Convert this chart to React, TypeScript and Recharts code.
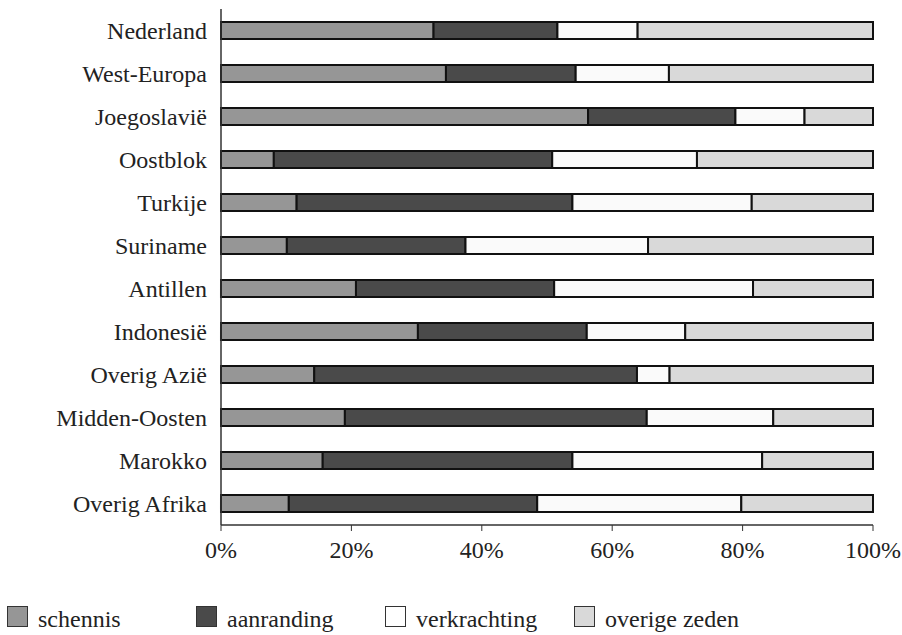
import React from "react";
import { BarChart, Bar, XAxis, YAxis } from "recharts";

const categories = [
  "Nederland",
  "West-Europa",
  "Joegoslavië",
  "Oostblok",
  "Turkije",
  "Suriname",
  "Antillen",
  "Indonesië",
  "Overig Azië",
  "Midden-Oosten",
  "Marokko",
  "Overig Afrika",
];

const schennis = [32.6, 34.5, 56.3, 8.1, 11.6, 10.1, 20.7, 30.2, 14.3, 19.0, 15.6, 10.4];
const aanranding = [19.0, 19.9, 22.6, 42.7, 42.3, 27.4, 30.4, 25.9, 49.5, 46.3, 38.3, 38.1];
const verkrachting = [12.3, 14.3, 10.6, 22.2, 27.5, 28.0, 30.5, 15.1, 5.0, 19.4, 29.1, 31.3];
const overigeZeden = [36.1, 31.3, 10.5, 27.0, 18.6, 34.5, 18.4, 28.8, 31.2, 15.3, 17.0, 20.2];

const xTicks = [0, 0.2, 0.4, 0.6, 0.8, 1];
const bandTicks = [0, 1, 2, 3, 4, 5, 6, 7, 8, 9, 10, 11, 12];

const series = [
  { key: "schennis", label: "schennis", values: schennis, color: "#969696" },
  { key: "aanranding", label: "aanranding", values: aanranding, color: "#4a4a4a" },
  { key: "verkrachting", label: "verkrachting", values: verkrachting, color: "#fafafa" },
  { key: "overige", label: "overige zeden", values: overigeZeden, color: "#d9d9d9" },
];

const data = categories.map((name, i) => {
  const row: Record<string, any> = { name };
  series.forEach((s) => {
    row[s.key] = s.values[i];
  });
  return row;
});

const FONT = '"Liberation Serif", "DejaVu Serif", Times, serif';

export default function App() {
  return (
    <div style={{ position: "absolute", left: 0, top: 0, width: 902, height: 635, background: "#fff", fontFamily: FONT }}>
      <BarChart
        width={902}
        height={580}
        data={data}
        layout="vertical"
        stackOffset="expand"
        barSize={17}
        margin={{ top: 9, right: 29, bottom: 0, left: 0 }}
        style={{ fontFamily: FONT }}
      >
        <XAxis
          type="number"
          domain={[0, 1]}
          ticks={xTicks}
          tickFormatter={(v: number) => `${Math.round(v * 100)}%`}
          height={55}
          tickSize={6}
          tickMargin={10}
          axisLine={{ stroke: "#333", strokeWidth: 1.5 }}
          tickLine={{ stroke: "#333" }}
          tick={{ fill: "#222", fontSize: 24, fontFamily: FONT }}
        />
        <XAxis
          xAxisId="top"
          orientation="top"
          type="number"
          domain={[0, 1]}
          height={0}
          tick={false}
          tickLine={false}
          axisLine={{ stroke: "#999", strokeWidth: 1.5 }}
        />
        <YAxis
          yAxisId="t"
          type="number"
          domain={[0, 12]}
          ticks={bandTicks}
          width={0}
          tick={false}
          tickSize={8}
          tickLine={{ stroke: "#333" }}
          axisLine={false}
        />
        <YAxis
          type="category"
          dataKey="name"
          width={221}
          tickSize={8}
          tickMargin={6}
          tickLine={false}
          axisLine={{ stroke: "#333", strokeWidth: 1.5 }}
          tick={{ fill: "#222", fontSize: 24, fontFamily: FONT }}
          interval={0}
        />
        <YAxis
          yAxisId="r"
          orientation="right"
          type="number"
          domain={[0, 1]}
          width={0}
          tick={false}
          tickLine={false}
          axisLine={{ stroke: "#999", strokeWidth: 1.5 }}
        />
        {series.map((s) => (
          <Bar
            key={s.key}
            dataKey={s.key}
            stackId="a"
            fill={s.color}
            stroke="#111"
            strokeWidth={2}
            isAnimationActive={false}
          />
        ))}
      </BarChart>
      {series.map((s, i) => (
        <div key={s.key} style={{ position: "absolute", left: 7 + i * 189, top: 605 }}>
          <div
            style={{
              position: "absolute",
              left: 0,
              top: 1,
              width: 21,
              height: 21,
              background: s.color === "#fafafa" ? "#fff" : s.color,
              border: "1px solid #333",
              boxSizing: "border-box",
            }}
          />
          <span
            style={{
              position: "absolute",
              left: 31,
              top: 2,
              fontSize: 24,
              lineHeight: "24px",
              whiteSpace: "nowrap",
              color: "#222",
              fontFamily: FONT,
            }}
          >
            {s.label}
          </span>
        </div>
      ))}
    </div>
  );
}
